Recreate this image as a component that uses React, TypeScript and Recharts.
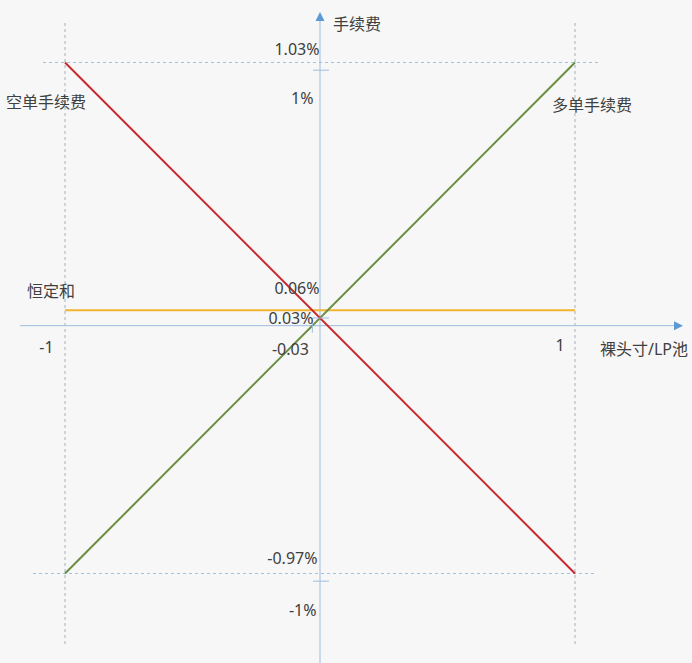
import React from 'react';
import { LineChart, Line, XAxis, YAxis, ReferenceLine, ReferenceDot } from 'recharts';

// ---------- data ----------
const netPosition = [-1, 1]; // 裸头寸/LP池
const longFee = [-0.97, 1.03]; // 多单手续费 (%)
const shortFee = [1.03, -0.97]; // 空单手续费 (%)
const constantSum = [0.06, 0.06]; // 恒定和 (%)

const xTickValues = [-1, -0.03, 1];
const xTickLabels = ['-1', '-0.03', '1'];
const yTickValues = [1.03, 1, 0.06, 0.03, -0.97, -1];
const yTickLabels = ['1.03%', '1%', '0.06%', '0.03%', '-0.97%', '-1%'];
const yTickMarks = [1, 0.03, -1];
const xTickMarks = [-0.03];

const seriesNames = { short: '空单手续费', long: '多单手续费', sum: '恒定和' };
const axisTitles = { x: '裸头寸/LP池', y: '手续费' };

const data = netPosition.map((x, i) => ({
  x,
  long: longFee[i],
  short: shortFee[i],
  sum: constantSum[i],
}));

// ---------- layout / style ----------
const W = 692;
const H = 663;
const MARGIN = { top: 12, right: 9, bottom: 0, left: 20 };
const X_DOMAIN: [number, number] = [-1.1765, 1.4235];
const Y_DOMAIN: [number, number] = [-1.3203, 1.2277];
const FONT = "'Noto Sans', 'Noto Sans CJK SC', sans-serif";
const TEXT = '#404040';
const AXIS = '#9dbde0';
const ARROW = '#5b9bd5';
const GUIDE_H = '#9dc3e6';
const GUIDE_V = '#a5b0bc';
const RED = '#c8292c';
const GREEN = '#6a8e42';
const ORANGE = '#f2b530';

const Y_LABEL_OFFSETS: [number, number][] = [
  [-0.5, -13.5],
  [-6.5, 27.5],
  [-0.5, -22.5],
  [-6.5, 0],
  [-2.5, -15.5],
  [-3.5, 28.5],
];
const X_LABEL_OFFSETS: [number, number][] = [
  [-18.5, 21],
  [-22, 23],
  [-15, 19],
];

const textShape =
  (s: string, dx: number, dy: number, anchor: 'start' | 'middle' | 'end') =>
  (p: any) => (
    <text
      x={(p.cx ?? 0) + dx}
      y={(p.cy ?? 0) + dy}
      textAnchor={anchor}
      dominantBaseline="central"
      fontSize={16}
      fontFamily={FONT}
      fill={TEXT}
    >
      {s}
    </text>
  );

const hGuide = (padL: number, padR: number) => (p: any) => {
  const a = Math.min(p.x1, p.x2);
  const b = Math.max(p.x1, p.x2);
  return (
    <line x1={a + padL} y1={p.y1} x2={b - padR} y2={p.y2} stroke={GUIDE_H} strokeWidth={1} strokeDasharray="3 3" />
  );
};

const vGuide = (padT: number, padB: number) => (p: any) => {
  const a = Math.min(p.y1, p.y2);
  const b = Math.max(p.y1, p.y2);
  return (
    <line x1={p.x1} y1={a + padT} x2={p.x2} y2={b - padB} stroke={GUIDE_V} strokeWidth={1} strokeDasharray="3 3" />
  );
};

const xAxisShape = (p: any) => {
  const y = p.y1;
  const xL = Math.min(p.x1, p.x2);
  const xR = Math.max(p.x1, p.x2);
  return (
    <g>
      <line x1={xL} y1={y} x2={xR - 6} y2={y} stroke={AXIS} strokeWidth={1} />
      <polygon points={`${xR},${y} ${xR - 9},${y - 4.5} ${xR - 9},${y + 4.5}`} fill={ARROW} />
    </g>
  );
};

const yAxisShape = (p: any) => {
  const x = p.x1;
  const yT = Math.min(p.y1, p.y2);
  const yB = Math.max(p.y1, p.y2);
  return (
    <g>
      <line x1={x} y1={yT + 6} x2={x} y2={yB} stroke={AXIS} strokeWidth={1} />
      <polygon points={`${x},${yT} ${x - 4.5},${yT + 9} ${x + 4.5},${yT + 9}`} fill={ARROW} />
    </g>
  );
};

const yTickShape = (p: any) => (
  <line x1={p.cx - 7} y1={p.cy} x2={p.cx + 9} y2={p.cy} stroke={AXIS} strokeWidth={1} />
);
const xTickShape = (p: any) => (
  <line x1={p.cx} y1={p.cy - 7} x2={p.cx} y2={p.cy + 7} stroke={AXIS} strokeWidth={1} />
);

export default function App() {
  return (
    <div style={{ position: 'absolute', left: 0, top: 0, width: W, height: H, background: '#f7f7f7' }}>
      <LineChart width={W} height={H} data={data} margin={MARGIN}>
        <XAxis type="number" dataKey="x" domain={X_DOMAIN} ticks={xTickValues} allowDataOverflow hide />
        <YAxis type="number" domain={Y_DOMAIN} ticks={yTickValues} allowDataOverflow hide />

        {/* dashed guides */}
        <ReferenceLine y={longFee[1]} ifOverflow="visible" shape={hGuide(23, 85)} />
        <ReferenceLine y={longFee[0]} ifOverflow="visible" shape={hGuide(13, 86)} />
        <ReferenceLine x={netPosition[0]} ifOverflow="visible" shape={vGuide(11, 16)} />
        <ReferenceLine x={netPosition[1]} ifOverflow="visible" shape={vGuide(11, 16)} />

        {/* axes with arrows */}
        <ReferenceLine y={0} ifOverflow="visible" shape={xAxisShape} />
        <ReferenceLine x={0} ifOverflow="visible" shape={yAxisShape} />

        <Line type="linear" dataKey="sum" name={seriesNames.sum} stroke={ORANGE} strokeWidth={2} dot={false} activeDot={false} isAnimationActive={false} />
        <Line type="linear" dataKey="long" name={seriesNames.long} stroke={GREEN} strokeWidth={2} dot={false} activeDot={false} isAnimationActive={false} />
        <Line type="linear" dataKey="short" name={seriesNames.short} stroke={RED} strokeWidth={2} dot={false} activeDot={false} isAnimationActive={false} />

        {/* tick marks */}
        {yTickMarks.map((v) => (
          <ReferenceDot key={`yt${v}`} x={0} y={v} r={0} ifOverflow="visible" shape={yTickShape} />
        ))}
        {xTickMarks.map((v) => (
          <ReferenceDot key={`xt${v}`} x={v} y={0} r={0} ifOverflow="visible" shape={xTickShape} />
        ))}

        {/* y tick labels */}
        {yTickValues.map((v, i) => (
          <ReferenceDot
            key={`yl${v}`}
            x={0}
            y={v}
            r={0}
            ifOverflow="visible"
            shape={textShape(yTickLabels[i], Y_LABEL_OFFSETS[i][0], Y_LABEL_OFFSETS[i][1], 'end')}
          />
        ))}
        {/* x tick labels */}
        {xTickValues.map((v, i) => (
          <ReferenceDot
            key={`xl${v}`}
            x={v}
            y={0}
            r={0}
            ifOverflow="visible"
            shape={textShape(xTickLabels[i], X_LABEL_OFFSETS[i][0], X_LABEL_OFFSETS[i][1], 'middle')}
          />
        ))}

        {/* series names */}
        <ReferenceDot x={netPosition[0]} y={shortFee[0]} r={0} ifOverflow="visible" shape={textShape(seriesNames.short, -59, 39.5, 'start')} />
        <ReferenceDot x={netPosition[1]} y={longFee[1]} r={0} ifOverflow="visible" shape={textShape(seriesNames.long, -23, 42.5, 'start')} />
        <ReferenceDot x={netPosition[0]} y={constantSum[0]} r={0} ifOverflow="visible" shape={textShape(seriesNames.sum, -38, -19.5, 'start')} />

        {/* axis titles */}
        <ReferenceDot x={0} y={longFee[1]} r={0} ifOverflow="visible" shape={textShape(axisTitles.y, 13, -38.5, 'start')} />
        <ReferenceDot x={netPosition[1]} y={0} r={0} ifOverflow="visible" shape={textShape(axisTitles.x, 25, 23, 'start')} />
      </LineChart>
    </div>
  );
}
